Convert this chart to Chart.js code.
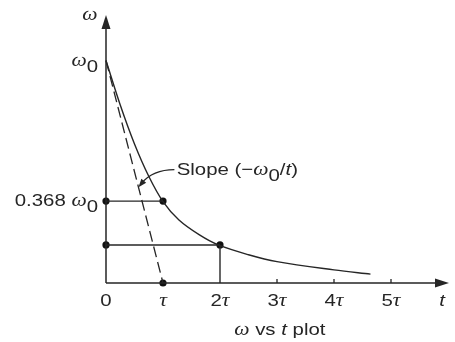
<!DOCTYPE html>
<html>
<head>
<meta charset="utf-8">
<script src="https://cdn.jsdelivr.net/npm/chart.js@4/dist/chart.umd.min.js"></script>
<style>
  html, body { margin: 0; padding: 0; background: #ffffff; }
  #wrap { width: 455px; height: 342px; }
</style>
</head>
<body>
<div id="wrap"><canvas id="c" width="455" height="342"></canvas></div>
<script>
// ---- data (t in units of tau, omega in units of omega0) ----
const curveT = [0, 0.25, 0.5, 0.75, 1.0, 1.28, 1.64, 1.97, 2.5, 3.0, 4.0, 4.64];
const curveW = [1.0, 0.80, 0.625, 0.48, 0.366, 0.283, 0.216, 0.171, 0.127, 0.096, 0.059, 0.04];
const tangentT = [0, 1];
const tangentW = [1, 0];
const markT = [0, 1, 0, 2, 1];
const markW = [0.368, 0.368, 0.171, 0.171, 0];
const xTickValues = [0, 1, 2, 3, 4, 5];
const xTickLabels = ['0', 'τ', '2τ', '3τ', '4τ', '5τ'];
const xTickMarks = [3, 4, 5];
const yTickValues = [1, 0.368];
const yTickLabels = ['ω_0', '0.368 ω_0'];
const axisLabelX = '*t';
const axisLabelY = 'ω';
const titleText = 'ω vs *t plot';
const slopeText = 'Slope (−ω_0/*t)';

const INK = '#262626';
const SX = 1.2;
const SANS = '17px "Liberation Sans", Arial, sans-serif';
const ISANS = 'italic 17px "Liberation Sans", Arial, sans-serif';
const GREEK = 'italic 18px "Liberation Serif", "Times New Roman", serif';

function parseRuns(s) {
  const runs = [];
  for (let i = 0; i < s.length; i++) {
    const ch = s[i];
    if (ch === '_') { runs.push({ text: s[i + 1], font: SANS, dy: 6 }); i++; }
    else if (ch === '*') { runs.push({ text: s[i + 1], font: ISANS, dy: 0 }); i++; }
    else if (ch === 'ω' || ch === 'τ') runs.push({ text: ch, font: GREEK, dy: 0 });
    else runs.push({ text: ch, font: SANS, dy: 0 });
  }
  return runs;
}
function drawRuns(ctx, s, x, baseline, align) {
  const runs = parseRuns(s);
  let total = 0;
  runs.forEach(r => { ctx.font = r.font; total += ctx.measureText(r.text).width; });
  let start = x;
  if (align === 'right') start = x - total * SX;
  else if (align === 'center') start = x - total * SX / 2;
  ctx.save();
  ctx.translate(start, baseline);
  ctx.scale(SX, 1);
  ctx.fillStyle = INK;
  ctx.textBaseline = 'alphabetic';
  ctx.textAlign = 'left';
  let cx = 0;
  runs.forEach(r => {
    ctx.font = r.font;
    ctx.fillText(r.text, cx, r.dy);
    cx += ctx.measureText(r.text).width;
  });
  ctx.restore();
}

const decor = {
  id: 'decor',
  afterDraw(chart) {
    const ctx = chart.ctx;
    const xs = chart.scales.x, ys = chart.scales.y;
    const X = v => xs.getPixelForValue(v), Y = v => ys.getPixelForValue(v);
    const x0 = X(0), y0 = Y(0);
    const top = chart.chartArea.top, right = chart.chartArea.right;
    ctx.save();
    ctx.strokeStyle = INK; ctx.fillStyle = INK; ctx.lineWidth = 1.5;
    // axes
    ctx.beginPath();
    ctx.moveTo(x0, y0); ctx.lineTo(x0, top + 8);
    ctx.moveTo(x0, y0); ctx.lineTo(right - 8, y0);
    ctx.stroke();
    // arrowheads
    ctx.beginPath();
    ctx.moveTo(x0, top - 1); ctx.lineTo(x0 - 4.5, top + 13); ctx.lineTo(x0 + 4.5, top + 13); ctx.closePath(); ctx.fill();
    ctx.beginPath();
    ctx.moveTo(right + 1, y0); ctx.lineTo(right - 13, y0 - 4.5); ctx.lineTo(right - 13, y0 + 4.5); ctx.closePath(); ctx.fill();
    // small ticks
    ctx.lineWidth = 1.3;
    ctx.beginPath();
    xTickMarks.forEach(v => { ctx.moveTo(X(v), y0); ctx.lineTo(X(v), y0 - 4); });
    ctx.stroke();
    // slope annotation arrow
    const sx = X(1.2), sy = Y(0.51), cxp = X(0.82), cyp = Y(0.51), tx = X(0.57), ty = Y(0.43);
    ctx.lineWidth = 1.3;
    ctx.beginPath(); ctx.moveTo(sx, sy); ctx.quadraticCurveTo(cxp, cyp, tx + 3, ty - 4); ctx.stroke();
    const ang = Math.atan2(ty - cyp, tx - cxp);
    ctx.beginPath();
    ctx.moveTo(tx, ty);
    ctx.lineTo(tx - 9 * Math.cos(ang - 0.35), ty - 9 * Math.sin(ang - 0.35));
    ctx.lineTo(tx - 9 * Math.cos(ang + 0.35), ty - 9 * Math.sin(ang + 0.35));
    ctx.closePath(); ctx.fill();
    ctx.restore();
    // text
    xTickValues.forEach((v, i) => drawRuns(ctx, xTickLabels[i], X(v), y0 + 23, 'center'));
    yTickValues.forEach((v, i) => drawRuns(ctx, yTickLabels[i], x0 - 8, Y(v) + 5, 'right'));
    drawRuns(ctx, axisLabelY, x0 - 16, top + 4, 'center');
    drawRuns(ctx, axisLabelX, right - 6, y0 + 23, 'center');
    drawRuns(ctx, titleText, X(3.05), y0 + 52, 'center');
    drawRuns(ctx, slopeText, X(1.24), Y(0.485), 'left');
  }
};

const lineDs = (data, extra) => Object.assign({
  data, showLine: true, borderColor: INK, borderWidth: 1.4, pointRadius: 0, fill: false, clip: false
}, extra || {});

new Chart(document.getElementById('c'), {
  type: 'scatter',
  data: {
    datasets: [
      lineDs(curveT.map((t, i) => ({ x: t, y: curveW[i] })), { tension: 0.35 }),
      lineDs(tangentT.map((t, i) => ({ x: t, y: tangentW[i] })), { borderDash: [11, 5], borderWidth: 1.3 }),
      lineDs([{ x: markT[0], y: markW[0] }, { x: markT[1], y: markW[1] }]),
      lineDs([{ x: markT[2], y: markW[2] }, { x: markT[3], y: markW[3] }]),
      lineDs([{ x: markT[3], y: markW[4] }, { x: markT[3], y: markW[3] }]),
      { data: markT.map((t, i) => ({ x: t, y: markW[i] })), showLine: false, pointRadius: 3.6,
        pointBackgroundColor: '#111', pointBorderColor: '#111', pointBorderWidth: 0, clip: false }
    ]
  },
  options: {
    responsive: false,
    animation: false,
    events: [],
    layout: { padding: { left: 106, right: 7, top: 16, bottom: 59 } },
    plugins: { legend: { display: false }, tooltip: { enabled: false } },
    scales: {
      x: { type: 'linear', min: 0, max: 6, display: false },
      y: { type: 'linear', min: 0, max: 1.2, display: false }
    }
  },
  plugins: [decor]
});
</script>
</body>
</html>
